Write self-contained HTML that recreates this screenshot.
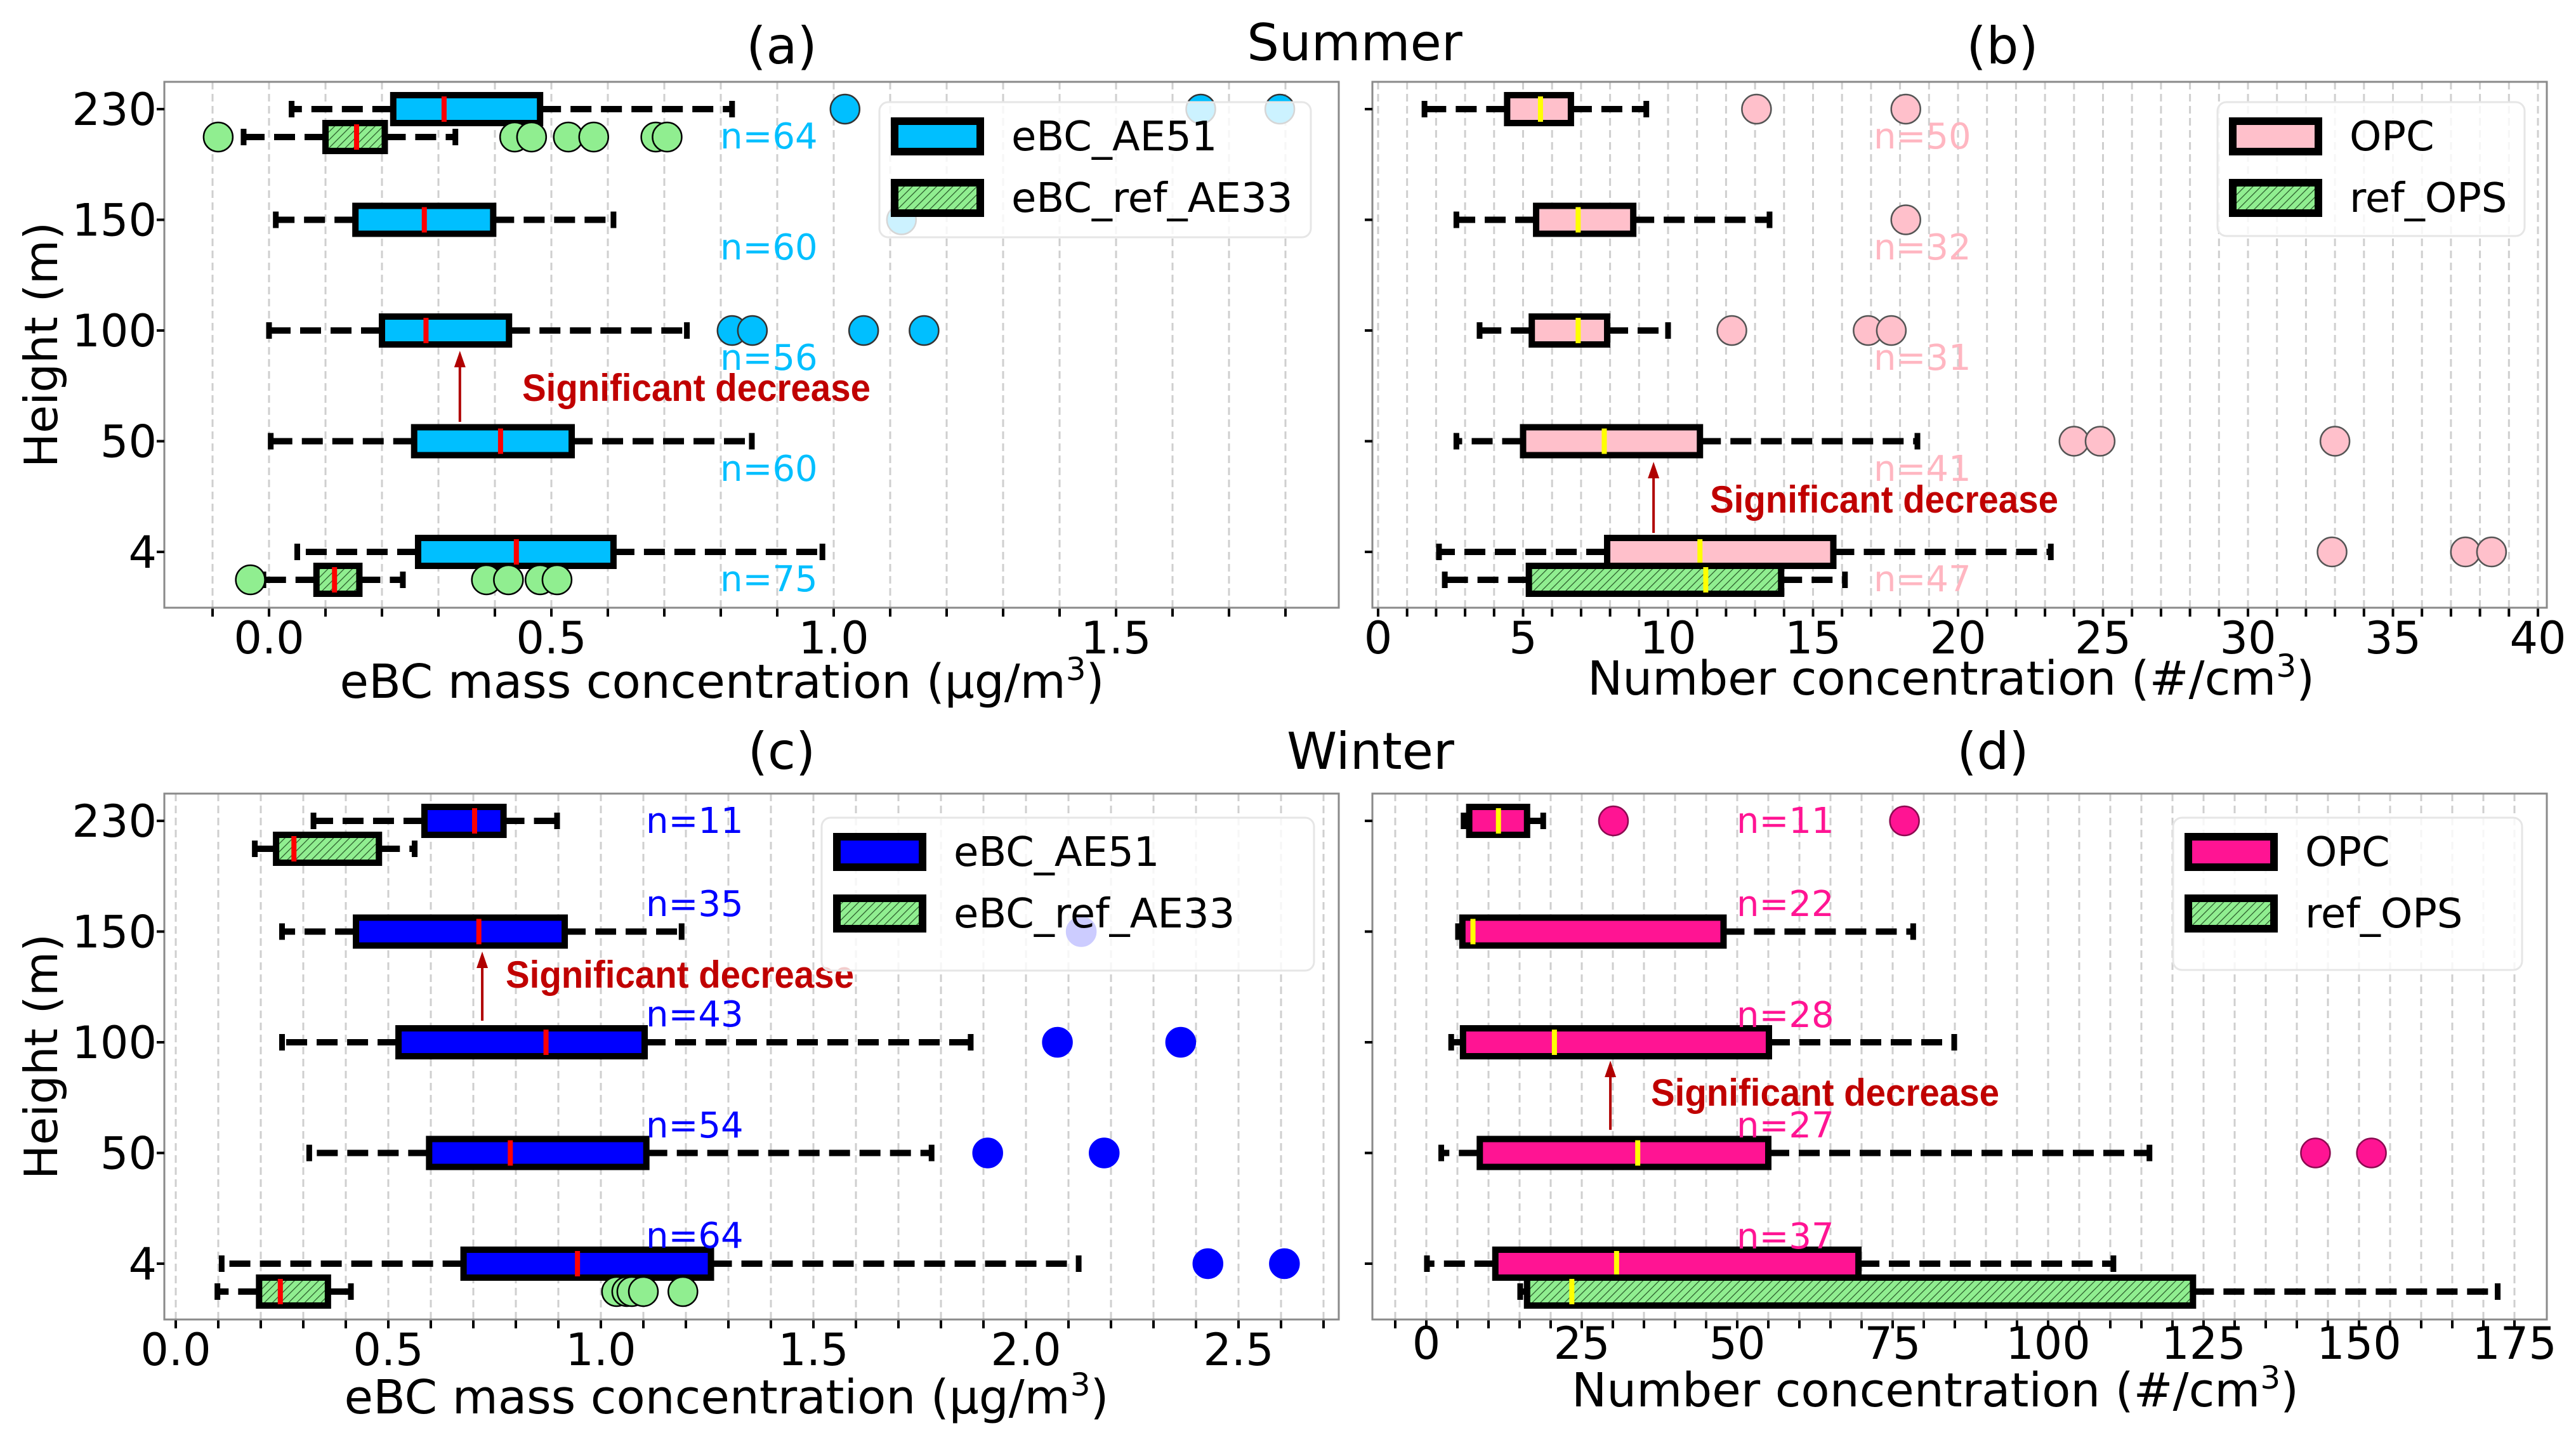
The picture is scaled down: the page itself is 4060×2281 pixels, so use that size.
<!DOCTYPE html>
<html><head><meta charset="utf-8"><style>
html,body{margin:0;padding:0;background:#fff}
svg{display:block}
text{font-family:"DejaVu Sans","Liberation Sans",sans-serif}
</style></head><body>
<svg id="fig" width="4060" height="2281" viewBox="0 0 4060 2281" xmlns="http://www.w3.org/2000/svg">
<defs>
<pattern id="hatch" patternUnits="userSpaceOnUse" width="9" height="9" patternTransform="rotate(45)">
<rect width="9" height="9" fill="#90ee90"/>
<line x1="0" y1="0" x2="0" y2="9" stroke="#2a5a2a" stroke-width="2.5"/>
</pattern>
</defs>
<text x="2135" y="95" font-size="80" text-anchor="middle">Summer</text>
<text x="2160" y="1212" font-size="80" text-anchor="middle">Winter</text>
</svg>
<script>
// ---------- data ----------
const heightLabels = ['230','150','100','50','4'];

// panel (a) summer eBC
const aLo  = [0.04, 0.012, 0.0, 0.003, 0.05];
const aQ1  = [0.22, 0.153, 0.2, 0.257, 0.264];
const aMed = [0.31, 0.275, 0.278, 0.41, 0.438];
const aQ3  = [0.48, 0.397, 0.425, 0.536, 0.61];
const aHi  = [0.82, 0.61, 0.74, 0.855, 0.98];
const aOut = [[1.02,1.65,1.79],[1.12],[0.82,0.856,1.053,1.16],[],[]];
const aRefIdx = [0, 4];
const aRefLo  = [-0.045, -0.01];
const aRefQ1  = [0.10, 0.084];
const aRefMed = [0.155, 0.116];
const aRefQ3  = [0.205, 0.16];
const aRefHi  = [0.33, 0.237];
const aRefOut = [[-0.09,0.435,0.465,0.53,0.575,0.685,0.705],[-0.033,0.385,0.424,0.48,0.51]];
const aN = ['n=64','n=60','n=56','n=60','n=75'];
const aTicks = ['0.0','0.5','1.0','1.5'];

// panel (b) summer number conc
const bLo  = [1.6, 2.7, 3.5, 2.7, 2.1];
const bQ1  = [4.45, 5.45, 5.3, 5.0, 7.9];
const bMed = [5.6, 6.9, 6.9, 7.8, 11.1];
const bQ3  = [6.65, 8.8, 7.9, 11.1, 15.7];
const bHi  = [9.25, 13.5, 10.0, 18.6, 23.2];
const bOut = [[13.05,18.2],[18.2],[12.2,16.9,17.7],[24.0,24.9,33.0],[32.9,37.5,38.4]];
const bRefIdx = [4];
const bRefLo  = [2.3];
const bRefQ1  = [5.2];
const bRefMed = [11.3];
const bRefQ3  = [13.9];
const bRefHi  = [16.1];
const bRefOut = [[]];
const bN = ['n=50','n=32','n=31','n=41','n=47'];
const bTicks = ['0','5','10','15','20','25','30','35','40'];

// panel (c) winter eBC
const cLo  = [0.324, 0.25, 0.25, 0.314, 0.108];
const cQ1  = [0.585, 0.424, 0.524, 0.596, 0.677];
const cMed = [0.703, 0.713, 0.871, 0.787, 0.945];
const cQ3  = [0.771, 0.915, 1.103, 1.107, 1.259];
const cHi  = [0.897, 1.19, 1.87, 1.778, 2.124];
const cOut = [[],[2.13],[2.074,2.364],[1.91,2.184],[2.428,2.608]];
const cRefIdx = [0, 4];
const cRefLo  = [0.186, 0.098];
const cRefQ1  = [0.236, 0.196];
const cRefMed = [0.278, 0.246];
const cRefQ3  = [0.478, 0.358];
const cRefHi  = [0.562, 0.412];
const cRefOut = [[],[1.037,1.061,1.073,1.10,1.193]];
const cN = ['n=11','n=35','n=43','n=54','n=64'];
const cTicks = ['0.0','0.5','1.0','1.5','2.0','2.5'];

// panel (d) winter number conc
const dLo  = [6.0, 5.1, 4.0, 2.4, 0.1];
const dQ1  = [6.9, 5.8, 5.9, 8.6, 11.1];
const dMed = [11.6, 7.5, 20.6, 34.0, 30.6];
const dQ3  = [16.2, 47.8, 55.1, 55.0, 69.5];
const dHi  = [18.8, 78.3, 84.9, 116.3, 110.5];
const dOut = [[30.1,76.9],[],[],[143,152],[]];
const dRefIdx = [4];
const dRefLo  = [15.1];
const dRefQ1  = [16.2];
const dRefMed = [23.4];
const dRefQ3  = [123.3];
const dRefHi  = [172.3];
const dRefOut = [[]];
const dN = ['n=11','n=22','n=28','n=27','n=37'];
const dTicks = ['0','25','50','75','100','125','150','175'];

// ---------- drawing ----------
const NS = 'http://www.w3.org/2000/svg';
const svg = document.getElementById('fig');
function mk(tag, attrs, parent){
  const e = document.createElementNS(NS, tag);
  for (const k in attrs) e.setAttribute(k, attrs[k]);
  (parent||svg).appendChild(e);
  return e;
}

function drawPanel(P){
  const g = mk('g', {});
  
  
  const X = v => P.x0 + v * P.unit;
  const Y = i => P.yTop + i * P.ySpace;
  for (let v = P.gStart; v <= P.gEnd + 1e-9; v += P.gStep){
    const gx = X(v);
    if (gx <= P.left + 2 || gx >= P.right - 2) continue;
    const l = mk('line', {x1:gx, y1:P.top, x2:gx, y2:P.bottom, stroke:'#cfcfcf', 'stroke-width':3, 'stroke-dasharray':'12,7'}, g);
    
    
    const t = mk('line', {x1:gx, y1:P.bottom, x2:gx, y2:P.bottom+14, stroke:'#000', 'stroke-width':4}, g);
    
    
  }
  const fr = mk('rect', {x:P.left, y:P.top, width:P.right-P.left, height:P.bottom-P.top, fill:'none', stroke:'#8a8a8a', 'stroke-width':3}, g);
  
  
  P.ticks.forEach(lbl => {
    const t = mk('text', {x:X(parseFloat(lbl)), y:P.tickY, 'font-size':70, 'text-anchor':'middle'}, g);
    t.textContent = lbl;
    
    
  });
  heightLabels.forEach((h, i) => {
    const tk = mk('line', {x1:P.left-12, y1:Y(i), x2:P.left, y2:Y(i), stroke:'#000', 'stroke-width':4}, g);
    
    
    if (P.yLabels){
      const t = mk('text', {x:P.left-12, y:Y(i)+25, 'font-size':70, 'text-anchor':'end'}, g);
      t.textContent = h;
      
      
    }
  });
  if (P.yLabels){
    const yc = (P.top + P.bottom) / 2;
    const t = mk('text', {x:90, y:yc, 'font-size':72, 'text-anchor':'middle', transform:'rotate(-90 90 '+yc+')'}, g);
    t.textContent = 'Height (m)';
    
    
  }
  const xl = mk('text', {x:P.xlabX, y:P.xlabY, 'font-size':74, 'text-anchor':'middle'}, g);
  xl.innerHTML = P.xlab + '<tspan font-size="50" dy="-28">3</tspan><tspan dy="28">)</tspan>';
  
  
  const pt = mk('text', {x:P.titleX, y:P.titleY, 'font-size':80, 'text-anchor':'middle'}, g);
  pt.textContent = P.title;
  
  

  function box(yc, lo, q1, med, q3, hi, outs, fill, medCol, outFill, outEdge, nm){
    const bg = mk('g', {}, g);
    
    
    const dash = {stroke:'#000', 'stroke-width':10, 'stroke-dasharray':'33,15'};
    mk('line', Object.assign({x1:X(q1), y1:yc, x2:X(lo), y2:yc}, dash), bg);
    mk('line', Object.assign({x1:X(q3), y1:yc, x2:X(hi), y2:yc}, dash), bg);
    mk('line', {x1:X(lo), y1:yc-13, x2:X(lo), y2:yc+13, stroke:'#000', 'stroke-width':9}, bg);
    mk('line', {x1:X(hi), y1:yc-13, x2:X(hi), y2:yc+13, stroke:'#000', 'stroke-width':9}, bg);
    mk('rect', {x:X(q1), y:yc-22, width:X(q3)-X(q1), height:44, fill:fill, stroke:'#000', 'stroke-width':10}, bg);
    mk('line', {x1:X(med), y1:yc-20, x2:X(med), y2:yc+20, stroke:medCol, 'stroke-width':8}, bg);
    outs.forEach(v => {
      const c = mk('circle', {cx:X(v), cy:yc, r:23, fill:outFill, stroke:outEdge, 'stroke-width':2.5}, bg);
      
      
    });
  }
  heightLabels.forEach((h, i) => {
    box(Y(i), P.lo[i], P.q1[i], P.med[i], P.q3[i], P.hi[i], P.out[i], P.color, P.medCol, P.color, P.outEdge, P.series+'-box-'+h+'m');
  });
  P.refIdx.forEach((i, k) => {
    box(Y(i)+44, P.rLo[k], P.rQ1[k], P.rMed[k], P.rQ3[k], P.rHi[k], P.rOut[k], 'url(#hatch)', P.medCol, '#90ee90', '#000', P.refSeries+'-box-'+heightLabels[i]+'m');
  });
  P.n.forEach((s, i) => {
    const t = mk('text', {x:P.nX, y:P.nY[i]+20, 'font-size':56, fill:P.nCol}, g);
    t.textContent = s;
    
    
  });
  const ax = X(P.arrowV);
  const ar = mk('line', {x1:ax, y1:P.arrowY1, x2:ax, y2:P.arrowY2+22, stroke:'#b00000', 'stroke-width':4}, g);
  
  
  mk('polygon', {points:(ax-9)+','+(P.arrowY2+26)+' '+(ax+9)+','+(P.arrowY2+26)+' '+ax+','+P.arrowY2, fill:'#b00000'}, g);
  const at = mk('text', {x:P.annX, y:P.annY+21, 'font-size':60, 'font-weight':'bold', fill:'#c00000', textLength:549, lengthAdjust:'spacingAndGlyphs', style:'font-family:"Liberation Sans",sans-serif'}, g);
  at.textContent = 'Significant decrease';
  
  
  const L = P.leg;
  const lg = mk('g', {}, g);
  
  
  mk('rect', {x:L.x, y:L.y, width:L.w, height:L.h, rx:14, fill:'#fff', 'fill-opacity':0.8, stroke:'#e6e6e6', 'stroke-width':3}, lg);
  [[P.color, P.series], ['url(#hatch)', P.refSeries]].forEach((e, k) => {
    const ey = L.y + 54 + k*97;
    const eg = mk('g', {}, lg);
    
    
    mk('rect', {x:L.x+24, y:ey-24, width:135, height:48, fill:e[0], stroke:'#000', 'stroke-width':12}, eg);
    const t = mk('text', {x:L.x+208, y:ey+22, 'font-size':64}, eg);
    t.textContent = e[1];
  });
}

drawPanel({name:'panel-a', title:'(a)', titleX:1232, titleY:100,
  left:259, right:2110, top:129, bottom:958, x0:424, unit:890,
  gStart:-0.1, gEnd:1.9, gStep:0.1, ticks:aTicks, tickY:1030,
  yTop:172, ySpace:174.5, yLabels:true,
  xlab:'eBC mass concentration (μg/m', xlabX:1138, xlabY:1100,
  lo:aLo, q1:aQ1, med:aMed, q3:aQ3, hi:aHi, out:aOut,
  refIdx:aRefIdx, rLo:aRefLo, rQ1:aRefQ1, rMed:aRefMed, rQ3:aRefQ3, rHi:aRefHi, rOut:aRefOut,
  color:'#00bfff', medCol:'#ff0000', outEdge:'#333', series:'eBC_AE51', refSeries:'eBC_ref_AE33',
  n:aN, nX:1135, nY:[214,389,563,738,912], nCol:'#00bfff',
  arrowV:0.338, arrowY1:665, arrowY2:553, annX:823, annY:611,
  leg:{x:1386, y:161, w:680, h:213}});

drawPanel({name:'panel-b', title:'(b)', titleX:3156, titleY:100,
  left:2163, right:4014, top:129, bottom:958, x0:2172, unit:45.7,
  gStart:-1, gEnd:41, gStep:1, ticks:bTicks, tickY:1030,
  yTop:172, ySpace:174.5, yLabels:false,
  xlab:'Number concentration (#/cm', xlabX:3075, xlabY:1095,
  lo:bLo, q1:bQ1, med:bMed, q3:bQ3, hi:bHi, out:bOut,
  refIdx:bRefIdx, rLo:bRefLo, rQ1:bRefQ1, rMed:bRefMed, rQ3:bRefQ3, rHi:bRefHi, rOut:bRefOut,
  color:'#ffc0cb', medCol:'#ffff00', outEdge:'#555', series:'OPC', refSeries:'ref_OPS',
  n:bN, nX:2953, nY:[214,389,563,738,912], nCol:'#ffb6c1',
  arrowV:9.5, arrowY1:840, arrowY2:728, annX:2695, annY:787,
  leg:{x:3495, y:161, w:484, h:211}});

drawPanel({name:'panel-c', title:'(c)', titleX:1232, titleY:1212,
  left:259, right:2110, top:1251, bottom:2080, x0:277, unit:670,
  gStart:-0.1, gEnd:2.8, gStep:0.1, ticks:cTicks, tickY:2152,
  yTop:1294, ySpace:174.5, yLabels:true,
  xlab:'eBC mass concentration (μg/m', xlabX:1145, xlabY:2228,
  lo:cLo, q1:cQ1, med:cMed, q3:cQ3, hi:cHi, out:cOut,
  refIdx:cRefIdx, rLo:cRefLo, rQ1:cRefQ1, rMed:cRefMed, rQ3:cRefQ3, rHi:cRefHi, rOut:cRefOut,
  color:'#0000ff', medCol:'#ff0000', outEdge:'#0000ff', series:'eBC_AE51', refSeries:'eBC_ref_AE33',
  n:cN, nX:1018, nY:[1293,1424,1598,1773,1947], nCol:'#0000ff',
  arrowV:0.721, arrowY1:1609, arrowY2:1500, annX:797, annY:1536,
  leg:{x:1295, y:1289, w:776, h:241}});

drawPanel({name:'panel-d', title:'(d)', titleX:3141, titleY:1212,
  left:2163, right:4014, top:1251, bottom:2080, x0:2248, unit:9.8,
  gStart:-10, gEnd:185, gStep:5, ticks:dTicks, tickY:2142,
  yTop:1294, ySpace:174.5, yLabels:false,
  xlab:'Number concentration (#/cm', xlabX:3050, xlabY:2217,
  lo:dLo, q1:dQ1, med:dMed, q3:dQ3, hi:dHi, out:dOut,
  refIdx:dRefIdx, rLo:dRefLo, rQ1:dRefQ1, rMed:dRefMed, rQ3:dRefQ3, rHi:dRefHi, rOut:dRefOut,
  color:'#ff1493', medCol:'#ffff00', outEdge:'#8b0a50', series:'OPC', refSeries:'ref_OPS',
  n:dN, nX:2737, nY:[1293,1424,1599,1773,1948], nCol:'#ff1493',
  arrowV:29.6, arrowY1:1781, arrowY2:1672, annX:2602, annY:1722,
  leg:{x:3425, y:1289, w:550, h:240}});
</script>
</body></html>
